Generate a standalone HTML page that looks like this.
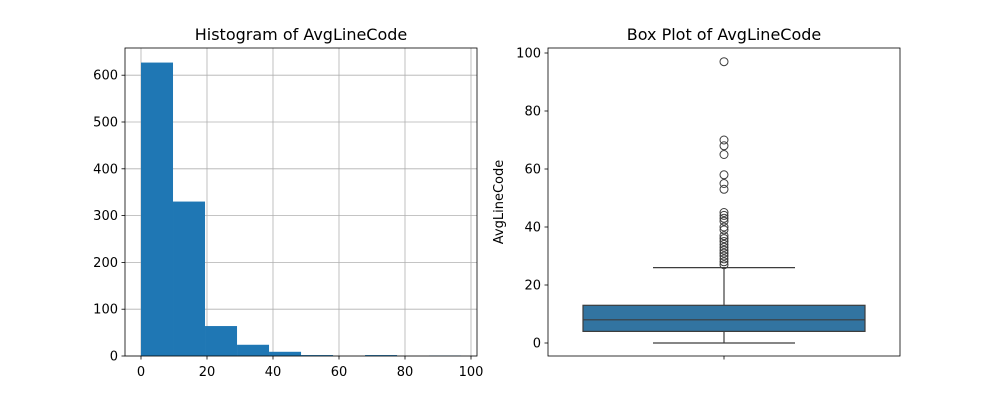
<!DOCTYPE html>
<html><head><meta charset="utf-8"><style>
body{margin:0;background:#fff;font-family:"Liberation Sans","DejaVu Sans",sans-serif}
text{font-family:"DejaVu Sans","Liberation Sans",sans-serif}
</style></head><body>
<svg id="c" width="1000" height="400" xmlns="http://www.w3.org/2000/svg"></svg>
<script>
const binCounts=[627,330,64,24,9,2,0,2,0,1];
const dataMin=0, dataMax=97;
const histXTicks=[0,20,40,60,80,100];
const histYTicks=[0,100,200,300,400,500,600];
const boxStats={q1:4,median:8,q3:13,whiskLow:0,whiskHigh:26};
const outliers=[97,70,68,65,58,55,53,45,44,43,42,40,39,37,36,35,34,33,32,31,30,29,28,27];
const boxYTicks=[0,20,40,60,80,100];

const svg=document.getElementById('c');
const NS='http://www.w3.org/2000/svg';
function mk(tag,attrs,parent){const e=document.createElementNS(NS,tag);for(const k in attrs)e.setAttribute(k,attrs[k]);(parent||svg).appendChild(e);return e;}
function txt(s,attrs,parent){const e=mk('text',attrs,parent);e.textContent=s;return e;}

const hx=v=>141+(v-0)*3.3;
const hy=v=>356-v*0.468;
const g1=mk('g',{});


histYTicks.forEach(t=>{
  const l=mk('line',{x1:125,x2:477,y1:hy(t),y2:hy(t),stroke:'#b0b0b0','stroke-width':0.8},g1);
  
});
histXTicks.forEach(t=>{
  const l=mk('line',{x1:hx(t),x2:hx(t),y1:48,y2:356,stroke:'#b0b0b0','stroke-width':0.8},g1);
  
});
const bw=(dataMax-dataMin)/binCounts.length;
binCounts.forEach((c,i)=>{
  const x0=hx(dataMin+i*bw),x1=hx(dataMin+(i+1)*bw);
  const r=mk('rect',{x:x0,y:hy(c),width:x1-x0,height:356-hy(c),fill:'#1f77b4'},g1);
  
});
mk('rect',{x:125,y:48,width:352,height:308,fill:'none',stroke:'#000','stroke-width':0.8},g1);
histXTicks.forEach(t=>{
  mk('line',{x1:hx(t),x2:hx(t),y1:356,y2:359.5,stroke:'#000','stroke-width':0.8},g1);
  const e=txt(t,{x:hx(t),y:376,'font-size':13,'text-anchor':'middle'},g1);
  
});
histYTicks.forEach(t=>{
  mk('line',{x1:121.5,x2:125,y1:hy(t),y2:hy(t),stroke:'#000','stroke-width':0.8},g1);
  const e=txt(t,{x:118,y:hy(t)+4.5,'font-size':13,'text-anchor':'end'},g1);
  
});
const t1=txt('Histogram of AvgLineCode',{x:301,y:40,'font-size':16,'text-anchor':'middle'},g1);


const by=v=>343-v*2.9;
const cx=724;
const g2=mk('g',{});


mk('rect',{x:548,y:48,width:352,height:308,fill:'none',stroke:'#000','stroke-width':0.8},g2);
const wl=mk('line',{x1:cx,x2:cx,y1:by(boxStats.whiskLow),y2:by(boxStats.q1),stroke:'#3d3d3d','stroke-width':1.2},g2);

const wh=mk('line',{x1:cx,x2:cx,y1:by(boxStats.whiskHigh),y2:by(boxStats.q3),stroke:'#3d3d3d','stroke-width':1.2},g2);

[boxStats.whiskLow,boxStats.whiskHigh].forEach(v=>{
  const c=mk('line',{x1:653,x2:795,y1:by(v),y2:by(v),stroke:'#3d3d3d','stroke-width':1.2},g2);
  
});
const box=mk('rect',{x:583,y:by(boxStats.q3),width:282,height:by(boxStats.q1)-by(boxStats.q3),fill:'#3274a1',stroke:'#3d3d3d','stroke-width':1.2},g2);

const md=mk('line',{x1:583,x2:865,y1:by(boxStats.median),y2:by(boxStats.median),stroke:'#3d3d3d','stroke-width':1.2},g2);

outliers.forEach(v=>{
  const c=mk('circle',{cx:cx,cy:by(v),r:4,fill:'none',stroke:'#3d3d3d','stroke-width':1},g2);
  
});
boxYTicks.forEach(t=>{
  mk('line',{x1:544.5,x2:548,y1:by(t),y2:by(t),stroke:'#000','stroke-width':0.8},g2);
  const e=txt(t,{x:541,y:by(t)+4.5,'font-size':13,'text-anchor':'end'},g2);
  
});
mk('line',{x1:cx,x2:cx,y1:356,y2:359.5,stroke:'#000','stroke-width':0.8},g2);
const yl=txt('AvgLineCode',{x:0,y:0,'font-size':13,'text-anchor':'middle',transform:'translate(503,202) rotate(-90)'},g2);

const t2=txt('Box Plot of AvgLineCode',{x:724,y:40,'font-size':16,'text-anchor':'middle'},g2);

</script>
</body></html>
